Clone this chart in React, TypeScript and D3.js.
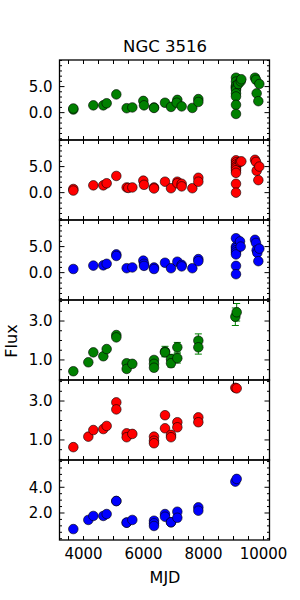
import React from "react";
import * as d3 from "d3";

// panel 1-3 : total flux light curves (g, r, b)
const mjdTotG = [3661, 3661, 4328, 4661, 4772, 5094, 5439, 5628, 5994, 6017, 6350, 6350, 6717, 6917, 7128, 7106, 7272, 7628, 7828, 7828,
    9083, 9083, 9083, 9083, 9083, 9083, 9083, 9083, 9083, 9083, 9083, 9161, 9239, 9261, 9717, 9750, 9772, 9828, 9861]
const fluxTotG = [0.6, 0.8, 1.4, 1.4, 1.8, 3.5, 0.85, 1.0, 2.25, 1.4, 1.0, 0.9, 1.9, 1.1, 2.45, 1.9, 1.2, 0.9, 2.6, 2.05,
    6.7, 5.96, 5.0, 4.8, 5.2, 4.7, 4.37, 3.7, 3.1, 1.5, -0.25, 5.5, 6.0, 6.4, 6.7, 6.3, 3.7, 2.2, 5.5]

const mjdTotR = [3661, 3661, 4328, 4661, 4772, 5094, 5439, 5494, 5628, 5994, 6017, 6350, 6350, 6717, 6917, 7128, 7128, 7272, 7272, 7628, 7828, 7828,
    9083, 9083, 9083, 9083, 9083, 9083, 9083, 9083, 9083, 9217, 9261, 9717, 9750, 9772, 9828, 9861]
const fluxTotR = [0.7, 0.4, 1.4, 1.4, 1.8, 3.2, 1.0, 0.9, 1.0, 2.3, 1.5, 1.0, 0.8, 2.1, 0.85, 2.1, 1.8, 1.7, 1.2, 0.85, 2.85, 2.1,
    6.2, 5.8, 5.4, 5.0, 4.7, 4.3, 3.8, 1.7, 0.0, 5.9, 6.0, 6.3, 5.9, 4.2, 2.4, 5.0]

const mjdTotB = [3661, 4328, 4661, 4772, 5094, 5094, 5439, 5628, 5994, 6017, 6017, 6350, 6350, 6717, 6917, 7128, 7272, 7272, 7628, 7828, 7828,
    9083, 9083, 9083, 9083, 9083, 9083, 9083, 9083, 9217, 9239, 9717, 9750, 9772, 9794, 9828, 9861]
const fluxTotB = [0.7, 1.35, 1.4, 1.7, 3.5, 3.2, 0.85, 1.0, 2.3, 1.7, 1.3, 1.0, 0.7, 1.9, 0.85, 2.1, 1.5, 1.2, 0.85, 2.6, 2.2,
    6.6, 5.0, 4.7, 4.3, 3.9, 3.5, 1.3, -0.3, 6.0, 5.0, 6.3, 5.7, 4.3, 3.8, 2.2, 4.6]

// panel 4-6 : fitted flux (g, r, b)
const mjdFit = [3661, 4161, 4328, 4661, 4772, 5094, 5094, 5439, 5439, 5628, 6350, 6350, 6350, 6717, 6717, 6917, 6917, 7128, 7128, 7828, 7828, 9061, 9106]
const fluxFitG = [0.42, 0.88, 1.39, 1.19, 1.56, 2.28, 2.16, 0.83, 0.54, 0.8, 1.0, 0.8, 0.6, 1.43, 1.39, 1.04, 0.83, 1.65, 1.09, 1.99, 1.65, 3.22, 3.45]
const errFitG = [0.05, 0.05, 0.05, 0.05, 0.05, 0.05, 0.05, 0.05, 0.05, 0.05, 0.08, 0.08, 0.08, 0.27, 0.2, 0.25, 0.2, 0.25, 0.25, 0.35, 0.35, 0.45, 0.45]
const fluxFitR = [0.63, 1.17, 1.51, 1.56, 1.72, 2.93, 2.57, 1.34, 1.14, 1.31, 1.17, 0.96, 0.83, 2.27, 1.6, 1.26, 1.14, 1.91, 1.65, 2.16, 1.91, 3.68, 3.65]
const errFitR = [0.03, 0.03, 0.03, 0.03, 0.03, 0.03, 0.03, 0.03, 0.03, 0.03, 0.03, 0.03, 0.03, 0.1, 0.05, 0.05, 0.05, 0.05, 0.05, 0.05, 0.05, 0.05, 0.05]
const fluxFitB = [0.75, 1.46, 1.77, 1.77, 1.92, 2.93, 2.93, 1.25, 1.25, 1.46, 1.4, 1.2, 0.99, 1.92, 1.71, 1.28, 1.28, 2.1, 1.63, 2.44, 2.18, 4.44, 4.65]

const xTickLabels = [4000, 6000, 8000, 10000]

const left = 59.5, right = 269.5, top = 60, panelH = 80
const font = "DejaVu Sans, sans-serif"

type Panel = {
    mjd: number[]
    flux: number[]
    err?: number[]
    color: string
    domain: [number, number]
    major: number[]
    minor: number
}

const panels: Panel[] = [
    {mjd: mjdTotG, flux: fluxTotG, color: "#008000", domain: [-5.25, 10.1], major: [0, 5], minor: 1},
    {mjd: mjdTotR, flux: fluxTotR, color: "#ff0000", domain: [-5.25, 10.1], major: [0, 5], minor: 1},
    {mjd: mjdTotB, flux: fluxTotB, color: "#0000ff", domain: [-5.25, 10.1], major: [0, 5], minor: 1},
    {mjd: mjdFit, flux: fluxFitG, err: errFitG, color: "#008000", domain: [-0.03, 4.08], major: [1, 3], minor: 0.5},
    {mjd: mjdFit, flux: fluxFitR, err: errFitR, color: "#ff0000", domain: [-0.03, 4.08], major: [1, 3], minor: 0.5},
    {mjd: mjdFit, flux: fluxFitB, color: "#0000ff", domain: [-0.1, 6.12], major: [2, 4], minor: 0.5},
]

export default function App() {
    const x = d3.scaleLinear().domain([3200, 10200]).range([left, right])
    const xTicks = d3.range(3500, 10201, 500)
    const fmt = d3.format(".1f")

    return (
        <svg width={300} height={600} style={{position: "absolute", left: 0, top: 0, background: "#fff"}}
             fontFamily={font}>
            <text x={165} y={52} textAnchor="middle" fontSize={16.5}>NGC 3516</text>
            {panels.map((p, i) => {
                const y0 = top + i * panelH
                const y = d3.scaleLinear().domain(p.domain).range([y0 + panelH, y0])
                const minors = d3.range(Math.ceil(p.domain[0] / p.minor) * p.minor, p.domain[1], p.minor)
                    .filter(v => !p.major.some(m => Math.abs(m - v) < 1e-6))
                return (
                    <g key={i}>
                        {p.err && p.mjd.map((m, j) => {
                            const cx = x(m), e = p.err![j]
                            const ya = y(p.flux[j] + e), yb = y(p.flux[j] - e)
                            return (
                                <g key={"e" + j} stroke={p.color} strokeWidth={1}>
                                    <line x1={cx} x2={cx} y1={ya} y2={yb}/>
                                    <line x1={cx - 3.5} x2={cx + 3.5} y1={ya} y2={ya}/>
                                    <line x1={cx - 3.5} x2={cx + 3.5} y1={yb} y2={yb}/>
                                </g>
                            )
                        })}
                        {p.mjd.map((m, j) => (
                            <circle key={j} cx={x(m)} cy={y(p.flux[j])} r={4.8} fill={p.color}
                                    stroke="#000" strokeWidth={0.6}/>
                        ))}
                        {/* ticks, inward on all four sides */}
                        {xTicks.map(t => (
                            <g key={"x" + t} stroke="#000" strokeWidth={1}>
                                <line x1={x(t)} x2={x(t)} y1={y0} y2={y0 + 4}/>
                                <line x1={x(t)} x2={x(t)} y1={y0 + panelH} y2={y0 + panelH - 4}/>
                            </g>
                        ))}
                        {minors.map(t => (
                            <g key={"m" + t} stroke="#000" strokeWidth={1}>
                                <line x1={left} x2={left + 2.5} y1={y(t)} y2={y(t)}/>
                                <line x1={right} x2={right - 2.5} y1={y(t)} y2={y(t)}/>
                            </g>
                        ))}
                        {p.major.map(t => (
                            <g key={"M" + t}>
                                <line x1={left} x2={left + 5} y1={y(t)} y2={y(t)} stroke="#000"/>
                                <line x1={right} x2={right - 5} y1={y(t)} y2={y(t)} stroke="#000"/>
                                <text x={left - 7} y={y(t)} dy="0.36em" textAnchor="end" fontSize={15}>{fmt(t)}</text>
                            </g>
                        ))}
                        <rect x={left} y={y0} width={right - left} height={panelH} fill="none" stroke="#000"
                              strokeWidth={1.3}/>
                    </g>
                )
            })}
            {xTickLabels.map(t => (
                <text key={t} x={x(t)} y={558.5} textAnchor="middle" fontSize={15}>{t}</text>
            ))}
            <text x={165} y={583} textAnchor="middle" fontSize={16}>MJD</text>
            <text transform="translate(16.5,341) rotate(-90)" textAnchor="middle" fontSize={16}>Flux</text>
        </svg>
    )
}
